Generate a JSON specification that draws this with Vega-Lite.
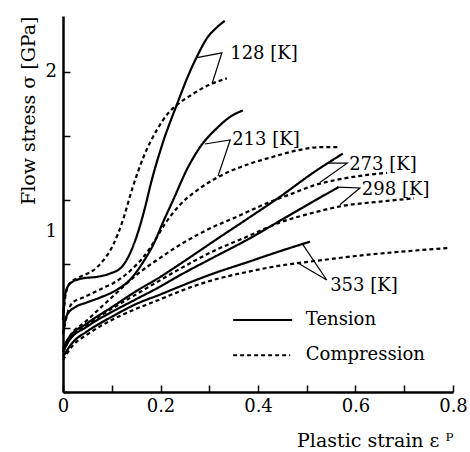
{
  "$schema": "https://vega.github.io/schema/vega-lite/v6.json",
  "width": 390,
  "height": 376,
  "autosize": {"type": "none"},
  "padding": {"left": 63, "top": 16, "right": 17, "bottom": 60},
  "background": "white",
  "config": {
    "view": {"stroke": null},
    "font": "DejaVu Serif",
    "text": {"font": "DejaVu Serif"}
  },
  "datasets": {
    "curves": [
      {"s": "128T", "type": "Tension", "x": 0, "y": 0.45},
      {"s": "128T", "type": "Tension", "x": 0.004, "y": 0.6},
      {"s": "128T", "type": "Tension", "x": 0.01, "y": 0.66},
      {"s": "128T", "type": "Tension", "x": 0.02, "y": 0.69},
      {"s": "128T", "type": "Tension", "x": 0.04, "y": 0.71},
      {"s": "128T", "type": "Tension", "x": 0.07, "y": 0.72},
      {"s": "128T", "type": "Tension", "x": 0.096, "y": 0.74},
      {"s": "128T", "type": "Tension", "x": 0.12, "y": 0.78},
      {"s": "128T", "type": "Tension", "x": 0.138, "y": 0.87},
      {"s": "128T", "type": "Tension", "x": 0.154, "y": 1.0},
      {"s": "128T", "type": "Tension", "x": 0.168, "y": 1.15},
      {"s": "128T", "type": "Tension", "x": 0.18, "y": 1.3},
      {"s": "128T", "type": "Tension", "x": 0.205, "y": 1.56},
      {"s": "128T", "type": "Tension", "x": 0.234, "y": 1.8},
      {"s": "128T", "type": "Tension", "x": 0.26, "y": 2.0},
      {"s": "128T", "type": "Tension", "x": 0.277, "y": 2.11},
      {"s": "128T", "type": "Tension", "x": 0.295, "y": 2.21},
      {"s": "128T", "type": "Tension", "x": 0.316, "y": 2.28},
      {"s": "128T", "type": "Tension", "x": 0.332, "y": 2.32},
      {"s": "128C", "type": "Compression", "x": 0, "y": 0.45},
      {"s": "128C", "type": "Compression", "x": 0.005, "y": 0.6},
      {"s": "128C", "type": "Compression", "x": 0.014, "y": 0.68},
      {"s": "128C", "type": "Compression", "x": 0.035, "y": 0.72},
      {"s": "128C", "type": "Compression", "x": 0.062, "y": 0.76},
      {"s": "128C", "type": "Compression", "x": 0.082, "y": 0.82},
      {"s": "128C", "type": "Compression", "x": 0.103, "y": 0.92},
      {"s": "128C", "type": "Compression", "x": 0.123, "y": 1.075},
      {"s": "128C", "type": "Compression", "x": 0.142, "y": 1.27},
      {"s": "128C", "type": "Compression", "x": 0.164, "y": 1.46},
      {"s": "128C", "type": "Compression", "x": 0.193, "y": 1.64},
      {"s": "128C", "type": "Compression", "x": 0.215, "y": 1.74},
      {"s": "128C", "type": "Compression", "x": 0.236, "y": 1.8},
      {"s": "128C", "type": "Compression", "x": 0.26, "y": 1.85},
      {"s": "128C", "type": "Compression", "x": 0.287, "y": 1.9},
      {"s": "128C", "type": "Compression", "x": 0.308, "y": 1.93},
      {"s": "128C", "type": "Compression", "x": 0.336, "y": 1.96},
      {"s": "213T", "type": "Tension", "x": 0, "y": 0.36},
      {"s": "213T", "type": "Tension", "x": 0.004, "y": 0.44},
      {"s": "213T", "type": "Tension", "x": 0.01, "y": 0.49},
      {"s": "213T", "type": "Tension", "x": 0.025, "y": 0.53},
      {"s": "213T", "type": "Tension", "x": 0.049, "y": 0.56},
      {"s": "213T", "type": "Tension", "x": 0.076, "y": 0.59},
      {"s": "213T", "type": "Tension", "x": 0.111, "y": 0.64},
      {"s": "213T", "type": "Tension", "x": 0.137, "y": 0.7},
      {"s": "213T", "type": "Tension", "x": 0.164, "y": 0.81},
      {"s": "213T", "type": "Tension", "x": 0.185, "y": 0.92},
      {"s": "213T", "type": "Tension", "x": 0.205, "y": 1.06},
      {"s": "213T", "type": "Tension", "x": 0.226, "y": 1.2},
      {"s": "213T", "type": "Tension", "x": 0.254, "y": 1.39},
      {"s": "213T", "type": "Tension", "x": 0.281, "y": 1.53},
      {"s": "213T", "type": "Tension", "x": 0.316, "y": 1.65},
      {"s": "213T", "type": "Tension", "x": 0.343, "y": 1.72},
      {"s": "213T", "type": "Tension", "x": 0.369, "y": 1.76},
      {"s": "213C", "type": "Compression", "x": 0, "y": 0.36},
      {"s": "213C", "type": "Compression", "x": 0.01, "y": 0.5},
      {"s": "213C", "type": "Compression", "x": 0.02, "y": 0.56},
      {"s": "213C", "type": "Compression", "x": 0.041, "y": 0.59},
      {"s": "213C", "type": "Compression", "x": 0.062, "y": 0.62},
      {"s": "213C", "type": "Compression", "x": 0.082, "y": 0.65},
      {"s": "213C", "type": "Compression", "x": 0.103, "y": 0.68},
      {"s": "213C", "type": "Compression", "x": 0.123, "y": 0.72},
      {"s": "213C", "type": "Compression", "x": 0.144, "y": 0.775},
      {"s": "213C", "type": "Compression", "x": 0.164, "y": 0.84},
      {"s": "213C", "type": "Compression", "x": 0.185, "y": 0.93},
      {"s": "213C", "type": "Compression", "x": 0.209, "y": 1.05},
      {"s": "213C", "type": "Compression", "x": 0.24, "y": 1.17},
      {"s": "213C", "type": "Compression", "x": 0.275, "y": 1.26},
      {"s": "213C", "type": "Compression", "x": 0.316, "y": 1.34},
      {"s": "213C", "type": "Compression", "x": 0.377, "y": 1.42},
      {"s": "213C", "type": "Compression", "x": 0.431, "y": 1.47},
      {"s": "213C", "type": "Compression", "x": 0.48, "y": 1.51},
      {"s": "213C", "type": "Compression", "x": 0.527, "y": 1.53},
      {"s": "213C", "type": "Compression", "x": 0.568, "y": 1.53},
      {"s": "273T", "type": "Tension", "x": 0, "y": 0.27},
      {"s": "273T", "type": "Tension", "x": 0.01, "y": 0.33},
      {"s": "273T", "type": "Tension", "x": 0.05, "y": 0.43},
      {"s": "273T", "type": "Tension", "x": 0.1, "y": 0.53},
      {"s": "273T", "type": "Tension", "x": 0.15, "y": 0.63},
      {"s": "273T", "type": "Tension", "x": 0.2, "y": 0.72},
      {"s": "273T", "type": "Tension", "x": 0.24, "y": 0.8},
      {"s": "273T", "type": "Tension", "x": 0.308, "y": 0.94},
      {"s": "273T", "type": "Tension", "x": 0.377, "y": 1.08},
      {"s": "273T", "type": "Tension", "x": 0.445, "y": 1.22},
      {"s": "273T", "type": "Tension", "x": 0.513, "y": 1.37},
      {"s": "273T", "type": "Tension", "x": 0.574, "y": 1.49},
      {"s": "273C", "type": "Compression", "x": 0, "y": 0.27},
      {"s": "273C", "type": "Compression", "x": 0.01, "y": 0.33},
      {"s": "273C", "type": "Compression", "x": 0.05, "y": 0.45},
      {"s": "273C", "type": "Compression", "x": 0.096, "y": 0.58},
      {"s": "273C", "type": "Compression", "x": 0.15, "y": 0.73},
      {"s": "273C", "type": "Compression", "x": 0.2, "y": 0.84},
      {"s": "273C", "type": "Compression", "x": 0.24, "y": 0.92},
      {"s": "273C", "type": "Compression", "x": 0.3, "y": 1.02},
      {"s": "273C", "type": "Compression", "x": 0.36, "y": 1.1},
      {"s": "273C", "type": "Compression", "x": 0.418, "y": 1.18},
      {"s": "273C", "type": "Compression", "x": 0.47, "y": 1.24},
      {"s": "273C", "type": "Compression", "x": 0.513, "y": 1.29},
      {"s": "273C", "type": "Compression", "x": 0.568, "y": 1.33},
      {"s": "273C", "type": "Compression", "x": 0.62, "y": 1.355},
      {"s": "273C", "type": "Compression", "x": 0.665, "y": 1.37},
      {"s": "298T", "type": "Tension", "x": 0, "y": 0.25},
      {"s": "298T", "type": "Tension", "x": 0.01, "y": 0.31},
      {"s": "298T", "type": "Tension", "x": 0.05, "y": 0.41},
      {"s": "298T", "type": "Tension", "x": 0.1, "y": 0.5},
      {"s": "298T", "type": "Tension", "x": 0.15, "y": 0.58},
      {"s": "298T", "type": "Tension", "x": 0.2, "y": 0.66},
      {"s": "298T", "type": "Tension", "x": 0.24, "y": 0.73},
      {"s": "298T", "type": "Tension", "x": 0.308, "y": 0.84},
      {"s": "298T", "type": "Tension", "x": 0.377, "y": 0.95},
      {"s": "298T", "type": "Tension", "x": 0.445, "y": 1.07},
      {"s": "298T", "type": "Tension", "x": 0.513, "y": 1.19},
      {"s": "298T", "type": "Tension", "x": 0.565, "y": 1.28},
      {"s": "298C", "type": "Compression", "x": 0, "y": 0.25},
      {"s": "298C", "type": "Compression", "x": 0.01, "y": 0.31},
      {"s": "298C", "type": "Compression", "x": 0.05, "y": 0.42},
      {"s": "298C", "type": "Compression", "x": 0.1, "y": 0.52},
      {"s": "298C", "type": "Compression", "x": 0.15, "y": 0.61},
      {"s": "298C", "type": "Compression", "x": 0.2, "y": 0.7},
      {"s": "298C", "type": "Compression", "x": 0.24, "y": 0.77},
      {"s": "298C", "type": "Compression", "x": 0.308, "y": 0.88},
      {"s": "298C", "type": "Compression", "x": 0.377, "y": 0.97},
      {"s": "298C", "type": "Compression", "x": 0.445, "y": 1.06},
      {"s": "298C", "type": "Compression", "x": 0.513, "y": 1.12},
      {"s": "298C", "type": "Compression", "x": 0.568, "y": 1.16},
      {"s": "298C", "type": "Compression", "x": 0.65, "y": 1.19},
      {"s": "298C", "type": "Compression", "x": 0.72, "y": 1.21},
      {"s": "353T", "type": "Tension", "x": 0, "y": 0.22},
      {"s": "353T", "type": "Tension", "x": 0.02, "y": 0.31},
      {"s": "353T", "type": "Tension", "x": 0.05, "y": 0.38},
      {"s": "353T", "type": "Tension", "x": 0.1, "y": 0.47},
      {"s": "353T", "type": "Tension", "x": 0.15, "y": 0.55},
      {"s": "353T", "type": "Tension", "x": 0.2, "y": 0.61},
      {"s": "353T", "type": "Tension", "x": 0.24, "y": 0.66},
      {"s": "353T", "type": "Tension", "x": 0.308, "y": 0.74},
      {"s": "353T", "type": "Tension", "x": 0.377, "y": 0.81},
      {"s": "353T", "type": "Tension", "x": 0.445, "y": 0.88},
      {"s": "353T", "type": "Tension", "x": 0.507, "y": 0.94},
      {"s": "353C", "type": "Compression", "x": 0, "y": 0.2},
      {"s": "353C", "type": "Compression", "x": 0.02, "y": 0.29},
      {"s": "353C", "type": "Compression", "x": 0.05, "y": 0.36},
      {"s": "353C", "type": "Compression", "x": 0.1, "y": 0.45},
      {"s": "353C", "type": "Compression", "x": 0.15, "y": 0.52},
      {"s": "353C", "type": "Compression", "x": 0.2, "y": 0.58},
      {"s": "353C", "type": "Compression", "x": 0.24, "y": 0.63},
      {"s": "353C", "type": "Compression", "x": 0.308, "y": 0.7},
      {"s": "353C", "type": "Compression", "x": 0.377, "y": 0.75},
      {"s": "353C", "type": "Compression", "x": 0.445, "y": 0.79},
      {"s": "353C", "type": "Compression", "x": 0.52, "y": 0.82},
      {"s": "353C", "type": "Compression", "x": 0.6, "y": 0.85},
      {"s": "353C", "type": "Compression", "x": 0.685, "y": 0.875},
      {"s": "353C", "type": "Compression", "x": 0.794, "y": 0.9}
    ],
    "leaders": [
      {"s": "128", "o": 1, "x": 0.275, "y": 2.09},
      {"s": "128", "o": 2, "x": 0.326, "y": 2.12},
      {"s": "128", "o": 3, "x": 0.306, "y": 1.93},
      {"s": "213", "o": 1, "x": 0.291, "y": 1.55},
      {"s": "213", "o": 2, "x": 0.343, "y": 1.575},
      {"s": "213", "o": 3, "x": 0.318, "y": 1.35},
      {"s": "273", "o": 1, "x": 0.542, "y": 1.43},
      {"s": "273", "o": 2, "x": 0.583, "y": 1.43},
      {"s": "273", "o": 3, "x": 0.527, "y": 1.31},
      {"s": "298", "o": 1, "x": 0.562, "y": 1.28},
      {"s": "298", "o": 2, "x": 0.609, "y": 1.275},
      {"s": "298", "o": 3, "x": 0.568, "y": 1.17},
      {"s": "353", "o": 1, "x": 0.49, "y": 0.93},
      {"s": "353", "o": 2, "x": 0.541, "y": 0.7},
      {"s": "353", "o": 3, "x": 0.48, "y": 0.81}
    ],
    "labels": [
      {"label": "128 [K]", "x": 0.343, "y": 2.11},
      {"label": "213 [K]", "x": 0.347, "y": 1.575},
      {"label": "273 [K]", "x": 0.587, "y": 1.42},
      {"label": "298 [K]", "x": 0.613, "y": 1.26},
      {"label": "353 [K]", "x": 0.548, "y": 0.66}
    ],
    "yLabels": [
      {"label": "1", "x": 0, "y": 1},
      {"label": "2", "x": 0, "y": 2}
    ],
    "legendLines": [
      {"type": "Tension", "x": 0.349, "x2": 0.47, "y": 0.45},
      {"type": "Compression", "x": 0.349, "x2": 0.466, "y": 0.23}
    ],
    "legendText": [
      {"label": "Tension", "x": 0.498, "y": 0.45},
      {"label": "Compression", "x": 0.498, "y": 0.23}
    ]
  },
  "layer": [
    {
      "data": {"name": "curves"},
      "mark": {"type": "line", "color": "black", "strokeWidth": 2.2, "interpolate": "monotone"},
      "encoding": {
        "x": {
          "field": "x", "type": "quantitative",
          "scale": {"domain": [0, 0.8], "nice": false, "zero": false},
          "axis": {
            "title": "Plastic strain  ε ᴾ",
            "titleAnchor": "end", "titleFont": "DejaVu Serif", "titleFontSize": 19, "titleFontWeight": "normal", "titleColor": "black",
            "titlePadding": 16,
            "values": [0, 0.1, 0.2, 0.3, 0.4, 0.5, 0.6, 0.7, 0.8],
            "labelExpr": "datum.value == 0 ? '0' : (round(datum.value * 10) % 2 == 0 ? format(datum.value, '.1f') : '')",
            "labelFont": "DejaVu Serif", "labelFontSize": 18, "labelColor": "black", "labelPadding": 12,
            "labelFlush": false, "labelOverlap": false,
            "tickSize": -7, "tickWidth": 1.5, "tickColor": "black",
            "domainColor": "black", "domainWidth": 2.5, "grid": false
          }
        },
        "y": {
          "field": "y", "type": "quantitative",
          "scale": {"domain": [0, 2.35], "nice": false, "zero": false},
          "axis": {
            "title": "Flow stress  σ [GPa]",
            "titleAnchor": "end", "titleFont": "DejaVu Serif", "titleFontSize": 19, "titleFontWeight": "normal", "titleColor": "black",
            "titlePadding": 24,
            "values": [0, 0.2, 0.4, 0.6, 0.8, 1, 1.2, 1.4, 1.6, 1.8, 2, 2.2],
            "labels": false,
            "tickSize": -7, "tickWidth": 1.5, "tickColor": "black",
            "domainColor": "black", "domainWidth": 2.5, "grid": false
          }
        },
        "detail": {"field": "s"},
        "strokeDash": {
          "field": "type", "type": "nominal",
          "scale": {"domain": ["Tension", "Compression"], "range": [[1, 0], [4, 3]]},
          "legend": null
        }
      }
    },
    {
      "data": {"name": "leaders"},
      "mark": {"type": "line", "color": "black", "strokeWidth": 1.2},
      "encoding": {
        "x": {"field": "x", "type": "quantitative"},
        "y": {"field": "y", "type": "quantitative"},
        "detail": {"field": "s"},
        "order": {"field": "o"}
      }
    },
    {
      "data": {"name": "labels"},
      "mark": {"type": "text", "align": "left", "baseline": "middle", "font": "DejaVu Serif", "fontSize": 18, "color": "black"},
      "encoding": {
        "x": {"field": "x", "type": "quantitative"},
        "y": {"field": "y", "type": "quantitative"},
        "text": {"field": "label"}
      }
    },
    {
      "data": {"name": "yLabels"},
      "mark": {"type": "text", "align": "right", "baseline": "middle", "dx": -6, "font": "DejaVu Serif", "fontSize": 18, "color": "black"},
      "encoding": {
        "x": {"field": "x", "type": "quantitative"},
        "y": {"field": "y", "type": "quantitative"},
        "text": {"field": "label"}
      }
    },
    {
      "data": {"name": "legendLines"},
      "mark": {"type": "rule", "color": "black", "strokeWidth": 2},
      "encoding": {
        "x": {"field": "x", "type": "quantitative"},
        "x2": {"field": "x2"},
        "y": {"field": "y", "type": "quantitative"},
        "strokeDash": {
          "field": "type", "type": "nominal",
          "scale": {"domain": ["Tension", "Compression"], "range": [[1, 0], [4, 3]]},
          "legend": null
        }
      }
    },
    {
      "data": {"name": "legendText"},
      "mark": {"type": "text", "align": "left", "baseline": "middle", "font": "DejaVu Serif", "fontSize": 18, "color": "black"},
      "encoding": {
        "x": {"field": "x", "type": "quantitative"},
        "y": {"field": "y", "type": "quantitative"},
        "text": {"field": "label"}
      }
    }
  ]
}
